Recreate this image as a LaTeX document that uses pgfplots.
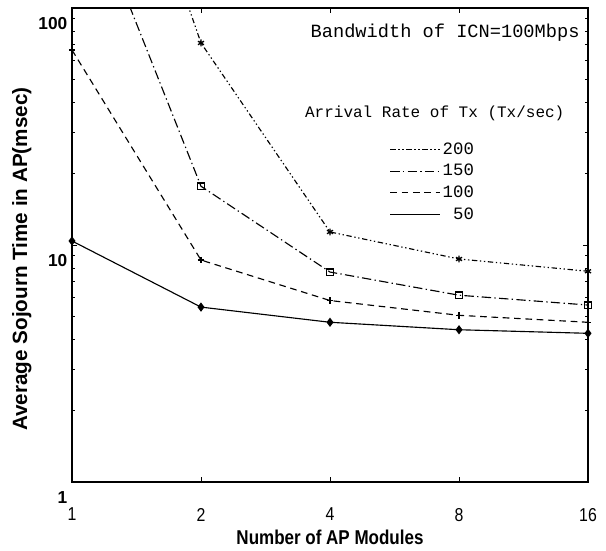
\documentclass[border=0pt]{standalone}
\usepackage{fontspec}
\setmainfont{Liberation Sans}
\newfontfamily\monof{Liberation Mono}
\newfontfamily\narrowf[FakeStretch=0.85]{Liberation Sans}
\usepackage{pgfplots}
\pgfplotsset{compat=1.18}

\begin{document}
\begin{tikzpicture}
\begin{axis}[
    name=ax,
    scale only axis,
    width=387pt,
    height=355.5pt,
    xmode=log,
    log basis x=2,
    ymode=log,
    xmin=1, xmax=16,
    ymin=1, ymax=100,
    xtick={1,2,4,8,16},
    xticklabels={1,2,4,8,16},
    ytick={1,10,100},
    yticklabels={1,10,100},
    tick align=inside,
    major tick length=4pt,
    minor tick length=2pt,
    axis line style={line width=0.9pt},
    every tick/.style={black, line width=0.6pt},
    xticklabel style={font=\narrowf\fontsize{14}{16}\selectfont, yshift=-16pt},
    yticklabel style={font=\bfseries\fontsize{13}{15}\selectfont, yshift=-12pt},
    xlabel={Number of AP Modules},
    xlabel style={font=\narrowf\bfseries\fontsize{15}{17}\selectfont,
        at={(axis description cs:0.5,-0.116)}, anchor=center},
    ylabel={Average Sojourn Time in AP(msec)},
    ylabel style={font=\bfseries\fontsize{15.5}{17}\selectfont,
        at={(axis description cs:-0.097,0.47)}, anchor=center},
    reverse legend,
    legend cell align=left,
    legend image code/.code={\draw[#1, mark=none] (0pt,0pt) -- (37pt,0pt);},
    legend style={draw=none, fill=none, inner sep=0pt, row sep=2pt,
        font=\monof\fontsize{13}{14}\selectfont,
        at={(rel axis cs:0.615,0.722)}, anchor=north west},
]
    % 50 Tx/sec
    \addplot[black, line width=0.85pt, mark=diamond*, mark size=2.8pt]
        coordinates {(1,10.4) (2,5.47) (4,4.72) (8,4.39) (16,4.24)};
    \addlegendentry{\hphantom{0}50}
    % 100 Tx/sec
    \addplot[black, line width=0.85pt, dash pattern=on 5pt off 3.5pt,
        mark=+, mark size=2.4pt, mark options={solid, line width=1pt}]
        coordinates {(1,66.5) (2,8.64) (4,5.83) (8,5.05) (16,4.72)};
    \addlegendentry{100}
    % 150 Tx/sec
    \addplot[black, line width=0.85pt, dash pattern=on 7pt off 2.5pt on 1pt off 2.5pt,
        mark=square, mark size=2.4pt, mark options={solid, line width=1pt}]
        coordinates {(1,417) (2,17.7) (4,7.69) (8,6.14) (16,5.58)};
    \addlegendentry{150}
    % 200 Tx/sec
    \addplot[black, line width=0.85pt, dash pattern=on 4pt off 2pt on 1pt off 2pt on 1pt off 2pt,
        mark=asterisk, mark size=2.6pt, mark options={solid, line width=1pt}]
        coordinates {(1,2660) (2,71.2) (4,11.35) (8,8.73) (16,7.75)};
    \addlegendentry{200}

    \node[font=\monof\fontsize{14}{16}\selectfont] at (rel axis cs:0.723,0.947)
        {Bandwidth of ICN=100Mbps};
    \node[font=\monof\fontsize{12}{14}\selectfont] at (rel axis cs:0.703,0.778)
        {Arrival Rate of Tx (Tx/sec)};
\end{axis}
\pgfresetboundingbox
\path ([shift={(-54pt,-51pt)}]ax.south west) rectangle ([shift={(13.5pt,6pt)}]ax.north east);
\end{tikzpicture}
\end{document}
